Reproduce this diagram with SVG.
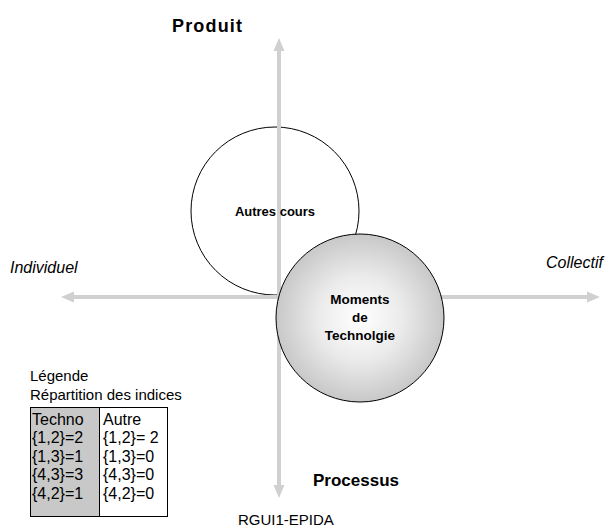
<svg xmlns="http://www.w3.org/2000/svg" width="610" height="530" viewBox="0 0 610 530">
<defs>
<style>
.ax{stroke:#d0d0d0;stroke-width:4;fill:none}
.ah{fill:#d0d0d0}
.b{font-family:"Liberation Sans",Arial,sans-serif;font-weight:bold;fill:#000}
.n{font-family:"Liberation Sans",Arial,sans-serif;fill:#000}
.i{font-family:"Liberation Sans",Arial,sans-serif;font-style:italic;fill:#000}
</style>
<radialGradient id="g" cx="0.5" cy="0.5" r="0.5">
<stop offset="0" stop-color="#ffffff"/>
<stop offset="0.5" stop-color="#ebebeb"/>
<stop offset="1" stop-color="#c8c8c8"/>
</radialGradient>
</defs>
<rect width="610" height="530" fill="#fff"/>
<g id="autres">
<circle cx="275" cy="211" r="84" fill="#fff" stroke="#000" stroke-width="1"/>
</g>
<g id="connectors">
<line class="ax" x1="279" y1="50" x2="279" y2="487"/>
<polygon class="ah" points="279,38 273.5,51 284.5,51"/>
<polygon class="ah" points="279,498 273.5,485 284.5,485"/>
<line class="ax" x1="72" y1="297" x2="589" y2="297"/>
<polygon class="ah" points="61,297 74,291.5 74,302.5"/>
<polygon class="ah" points="600,297 587,291.5 587,302.5"/>
</g>
<g id="autres-label">
<text class="b" x="275" y="216" font-size="13" text-anchor="middle">Autres cours</text>
</g>
<g id="moments">
<circle cx="360" cy="318" r="84" fill="url(#g)" stroke="#000" stroke-width="1"/>
<text class="b" x="360" y="304" font-size="13.5" text-anchor="middle">Moments</text>
<text class="b" x="360" y="322" font-size="13.5" text-anchor="middle">de</text>
<text class="b" x="360" y="340" font-size="13.5" text-anchor="middle">Technolgie</text>
</g>
<g id="labels">
<text class="b" x="172" y="32" font-size="18" textLength="70">Produit</text>
<text class="b" x="313" y="486" font-size="17">Processus</text>
<text class="i" x="10" y="273" font-size="16">Individuel</text>
<text class="i" x="546" y="268" font-size="16">Collectif</text>
<text class="n" x="238" y="525" font-size="15">RGUI1-EPIDA</text>
</g>
<g id="legend">
<text class="n" x="30" y="381" font-size="15">Légende</text>
<text class="n" x="30" y="400" font-size="15">Répartition des indices</text>
<rect x="30.5" y="407.5" width="69" height="109" fill="#c8c8c8" stroke="#000"/>
<rect x="99.5" y="407.5" width="68" height="109" fill="#fff" stroke="#000"/>
<g class="n" font-size="16">
<text x="32" y="425">Techno</text>
<text x="32" y="443">{1,2}=2</text>
<text x="32" y="462">{1,3}=1</text>
<text x="32" y="480">{4,3}=3</text>
<text x="32" y="499">{4,2}=1</text>
<text x="103" y="425">Autre</text>
<text x="103" y="443">{1,2}= 2</text>
<text x="103" y="462">{1,3}=0</text>
<text x="103" y="480">{4,3}=0</text>
<text x="103" y="499">{4,2}=0</text>
</g>
</g>
</svg>
